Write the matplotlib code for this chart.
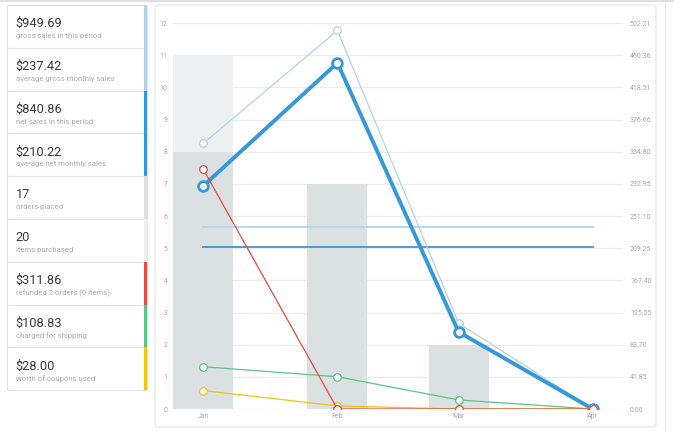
import numpy as np
import matplotlib
matplotlib.use('Agg')
import matplotlib.pyplot as plt
from matplotlib.patches import Rectangle, FancyBboxPatch

plt.rcParams['font.family'] = ['Roboto', 'DejaVu Sans']

# --- data ---
months = np.array(['2015-01-01', '2015-02-01', '2015-03-01', '2015-04-01'], dtype='datetime64[D]')
month_labels = ['Jan', 'Feb', 'Mar', 'Apr']
items_count = [11, 7, 2, 0]
orders_count = [8, 7, 2, 0]
gross_sales = [345.5, 492.5, 111.69, 0]
net_sales = [290.3, 450.3, 100.26, 0]
refunds = [311.86, 0, 0, 0]
shipping = [55.0, 42.0, 11.83, 0]
coupons = [24.0, 4.0, 0, 0]
avg_gross = 237.42
avg_net = 210.22
right_max = 502.21
right_tick_labels = ['0.00', '41.85', '83.70', '125.55', '167.40', '209.25', '251.10',
                     '292.95', '334.80', '376.66', '418.51', '460.36', '502.21']

summary_values = ['$949.69', '$237.42', '$840.86', '$210.22', '17', '20',
                  '$311.86', '$108.83', '$28.00']
summary_labels = ['gross sales in this period', 'average gross monthly sales',
                  'net sales in this period', 'average net monthly sales',
                  'orders placed', 'items purchased', 'refunded 2 orders (0 items)',
                  'charged for shipping', 'worth of coupons used']

# colours
C_GROSS = '#b1d4ea'
C_NET = '#3498db'
C_ORDERS = '#dbe1e3'
C_ITEMS = '#ecf0f1'
C_REFUND = '#e74c3c'
C_SHIP = '#5cc488'
C_COUPON = '#f1c40f'
summary_colors = [C_GROSS, C_GROSS, C_NET, C_NET, C_ORDERS, C_ITEMS,
                  C_REFUND, C_SHIP, C_COUPON]

W, H = 674, 432
fig = plt.figure(figsize=(W / 100, H / 100), dpi=100)
fig.patch.set_facecolor('white')

# background layer in pixel coordinates (panels, boxes)
bg = fig.add_axes([0, 0, 1, 1], zorder=0)
bg.set_xlim(0, W)
bg.set_ylim(H, 0)
bg.axis('off')

# left summary list
top, step = 5, 42.8
for i, (val, lab, col) in enumerate(zip(summary_values, summary_labels, summary_colors)):
    y0 = top + i * step
    bg.add_patch(Rectangle((6.5, y0), 140.5, step, facecolor='white',
                           edgecolor='#e2e2e2', lw=0.8))
    bg.add_patch(Rectangle((144, y0), 3, step, facecolor=col, edgecolor='none'))
    bg.text(15.5, y0 + 18.5, val, fontsize=9.2, color='#3a3a3a', va='center', ha='left')
    bg.text(15.5, y0 + 31, lab, fontsize=5.6, color='#ababab', va='center', ha='left')

# chart panel
bg.add_patch(FancyBboxPatch((155, 5), 501, 422, boxstyle='round,pad=0,rounding_size=3',
                            facecolor='white', edgecolor='#e3e3e3', lw=0.8))
bg.plot([665, 665], [0, H], color='#e6e6e6', lw=0.8)
bg.plot([0, W], [0.5, 0.5], color='#e0e0e0', lw=1.5)

# main chart
left, right, ytop, ybot = 173, 623, 23, 409
ax = fig.add_axes([left / W, 1 - ybot / H, (right - left) / W, (ybot - ytop) / H], zorder=1)
ax.patch.set_visible(False)
ax.set_xlim(months[0] - np.timedelta64(7, 'D'), months[-1] + np.timedelta64(7, 'D'))
ax.set_ylim(0, 12)

ax.bar(months, items_count, width=13.9, color=C_ITEMS, zorder=2)
ax.bar(months, orders_count, width=13.9, color=C_ORDERS, zorder=3)

ax.set_yticks(range(0, 13))
ax.grid(axis='y', color='#ececec', lw=0.9, zorder=0)
ax.set_axisbelow(True)
ax.set_xticks(months)
ax.set_xticklabels(month_labels)
ax.tick_params(axis='both', length=0, labelsize=5, colors='#a8a8a8')
ax.tick_params(axis='y', pad=4)
ax.tick_params(axis='x', pad=3)
for s in ax.spines.values():
    s.set_visible(False)

ax2 = ax.twinx()
ax2.set_ylim(0, right_max)
ax2.set_yticks(np.linspace(0, right_max, len(right_tick_labels)))
ax2.set_yticklabels(right_tick_labels)
ax2.tick_params(axis='y', length=0, labelsize=5, colors='#a8a8a8', pad=5)
for s in ax2.spines.values():
    s.set_visible(False)

# average lines
ax2.plot([months[0], months[-1]], [avg_gross, avg_gross], color=C_GROSS, lw=1.3)
ax2.plot([months[0], months[-1]], [avg_net, avg_net], color='#4a92c9', lw=1.3)

# series lines
mk = dict(marker='o', markerfacecolor='white')
ax2.plot(months, gross_sales, color=C_GROSS, lw=0.9, ms=5.5, mew=0.9, **mk)
ax2.plot(months, net_sales, color=C_NET, lw=2.8, ms=7, mew=2.0, **mk)
ax2.plot(months, shipping, color=C_SHIP, lw=0.9, ms=5.5, mew=0.9, **mk)
ax2.plot(months, coupons, color=C_COUPON, lw=0.9, ms=5.5, mew=0.9, **mk)
ax2.plot(months, refunds, color=C_REFUND, lw=0.9, ms=5.5, mew=0.9, **mk)

fig.savefig('out.png', dpi=100)
